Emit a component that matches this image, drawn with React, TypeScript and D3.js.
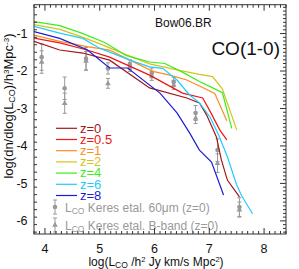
import React from "react";
import * as d3 from "d3";

// redshift labels and colours
const zLabels = ["z=0", "z=0.5", "z=1", "z=2", "z=4", "z=6", "z=8"];
const zColors = ["#a01818", "#ee1515", "#ff8c22", "#d6c218", "#3aee18", "#22ccff", "#1c1cd6"];

// model luminosity functions, [log L, log phi]
const z0 = [[3.8, -1.21], [4.27, -1.44], [4.69, -1.52], [5.18, -1.71], [5.91, -2.45], [6.59, -2.72], [6.82, -2.85], [6.95, -3.17], [7.13, -3.76], [7.22, -4.37], [7.33, -4.91], [7.55, -5.36]];
const z05 = [[3.8, -1.12], [4.27, -1.25], [4.77, -1.44], [5.18, -1.63], [5.91, -2.11], [6.51, -2.59], [6.88, -2.72], [7.02, -3.09], [7.19, -3.57], [7.32, -3.84]];
const z1 = [[3.8, -1.04], [4.27, -1.21], [4.77, -1.35], [5.18, -1.44], [5.55, -1.71], [5.97, -2.01], [6.28, -2.11], [6.59, -2.24], [6.82, -2.4], [7.1, -2.6], [7.32, -3.33]];
const z2 = [[3.8, -0.76], [4.27, -0.89], [4.67, -1.09], [5.06, -1.31], [5.49, -1.57], [5.91, -1.81], [6.41, -1.97], [6.82, -2.09], [7.06, -2.15], [7.24, -2.48], [7.5, -3.57]];
const z4 = [[3.8, -0.68], [4.27, -0.79], [4.67, -0.99], [5.09, -1.24], [5.49, -1.59], [5.91, -1.76], [6.19, -1.8], [6.51, -2.03], [6.82, -2.28], [7.06, -2.45], [7.24, -2.58], [7.41, -3.53]];
const z6 = [[3.8, -0.81], [4.27, -0.99], [4.69, -1.13], [5.0, -1.39], [5.55, -1.71], [5.91, -1.89], [6.15, -1.93], [6.41, -2.24], [6.64, -2.64], [6.82, -2.85], [7.01, -3.22], [7.17, -3.71], [7.33, -4.29], [7.5, -5.04], [7.59, -5.33], [7.79, -5.81]];
const z8 = [[3.8, -0.95], [4.27, -1.13], [4.77, -1.43], [5.18, -1.92], [5.51, -1.92], [6.1, -2.59], [6.41, -3.12], [6.64, -3.65], [6.82, -4.11], [7.04, -4.43], [7.26, -5.31]];
const models = [z0, z05, z1, z2, z4, z6, z8];

// Keres et al. observed points
const keresX = [3.94, 4.36, 4.75, 5.15, 5.55, 5.95, 6.35, 6.75, 7.15, 7.55];
const keres60 = [-1.63, -2.46, -1.67, -1.93, -1.83, -2.05, -2.29, -3.12, -4.11, -5.63];
const keres60Err = [0.35, 0.3, 0.3, 0.15, 0.13, 0.13, 0.12, 0.2, 0.3, 0.25];
const keresB = [-1.76, -2.86, -1.73, -2.33, -1.89, -2.13, -2.37, -3.25, -4.46, -5.7];
const keresBErr = [0.3, 0.27, 0.25, 0.13, 0.12, 0.12, 0.12, 0.15, 0.25, 0.2];

const xTicks = [4, 5, 6, 7, 8];
const yTicks = [-1, -2, -3, -4, -5, -6];

const W = 299;
const H = 269;
const left = 34, right = 286, top = 4.7, bottom = 234;
const font = "'Liberation Sans', Arial, sans-serif";
const gray = "#999";

const App = () => {
  const x = d3.scaleLinear().domain([3.8, 8.4]).range([left, right]);
  const y = d3.scaleLinear().domain([-6.35, -0.23]).range([bottom, top]);
  const line = d3.line<number[]>().x((d) => x(d[0])).y((d) => y(d[1]));

  const xMinor = d3.range(38, 85).map((v) => v / 10);
  const yMinorL = d3.range(-63, -2, 2).map((v) => v / 10);
  const yMinorR = d3.range(-63, -2).map((v) => v / 10);

  const errBar = (cx: number, lo: number, hi: number, key: string) => (
    <g key={key} stroke={gray} strokeWidth={1}>
      <line x1={cx} x2={cx} y1={lo} y2={hi} />
      <line x1={cx - 2} x2={cx + 2} y1={lo} y2={lo} />
      <line x1={cx - 2} x2={cx + 2} y1={hi} y2={hi} />
    </g>
  );
  const tri = (cx: number, cy: number) =>
    `M${cx},${cy - 3.2}L${cx + 2.8},${cy + 1.8}L${cx - 2.8},${cy + 1.8}Z`;

  return (
    <svg width={W} height={H} style={{ position: "absolute", left: 0, top: 0 }} fontFamily={font}>
      <rect width={W} height={H} fill="#fff" />
      <defs>
        <clipPath id="plot">
          <rect x={left} y={top} width={right - left} height={bottom - top} />
        </clipPath>
      </defs>

      {/* observations */}
      {keresX.map((v, i) => {
        const cx = x(v);
        return (
          <g key={"k" + i}>
            {errBar(cx, y(keres60[i] + keres60Err[i]), y(keres60[i] - keres60Err[i]), "a")}
            {errBar(cx, y(keresB[i] + keresBErr[i]), y(keresB[i] - keresBErr[i]), "b")}
            <circle cx={cx} cy={y(keres60[i])} r={2.3} fill={gray} />
            <path d={tri(cx, y(keresB[i]))} fill={gray} />
          </g>
        );
      })}

      {/* model curves */}
      <g clipPath="url(#plot)">
        {models.map((m, i) => (
          <path key={zLabels[i]} d={line(m) || ""} fill="none" stroke={zColors[i]} strokeWidth={1.2} />
        ))}
      </g>

      {/* legend */}
      {zLabels.map((lab, i) => (
        <g key={"lg" + i}>
          <line x1={56} x2={77} y1={128.3 + i * 11.2} y2={128.3 + i * 11.2} stroke={zColors[i]} strokeWidth={1.2} />
          <text x={80} y={132.5 + i * 11.2} fontSize={13} fill={zColors[i]}>{lab}</text>
        </g>
      ))}
      {errBar(55, 200, 214, "l1")}
      <circle cx={55} cy={207} r={2.3} fill={gray} />
      <text x={65} y={212} fontSize={12} fill={gray}>
        L<tspan fontSize={8.5} dy={2}>CO</tspan><tspan dy={-2}> Keres etal. 60μm (z=0)</tspan>
      </text>
      {errBar(55, 218, 232, "l2")}
      <path d={tri(55, 225)} fill={gray} />
      <text x={65} y={230} fontSize={12} fill={gray}>
        L<tspan fontSize={8.5} dy={2}>CO</tspan><tspan dy={-2}> Keres etal. B-band (z=0)</tspan>
      </text>

      {/* frame and ticks */}
      <g stroke="#333" strokeWidth={1}>
        <rect x={left} y={top} width={right - left} height={bottom - top} fill="none" />
        {xMinor.map((v) => {
          const major = Math.abs(v - Math.round(v)) < 1e-6;
          const len = major ? 6 : 3;
          return (
            <g key={"xt" + v}>
              <line x1={x(v)} x2={x(v)} y1={bottom} y2={bottom - len} />
              <line x1={x(v)} x2={x(v)} y1={top} y2={top + len} />
            </g>
          );
        })}
        {yMinorL.map((v) => {
          const major = Math.abs(v - Math.round(v)) < 1e-6;
          return <line key={"yl" + v} x1={left} x2={left + (major ? 6 : 3)} y1={y(v)} y2={y(v)} />;
        })}
        {yMinorR.map((v) => {
          const major = Math.abs(v - Math.round(v)) < 1e-6;
          return <line key={"yr" + v} x1={right} x2={right - (major ? 6 : 3)} y1={y(v)} y2={y(v)} />;
        })}
      </g>

      {xTicks.map((t) => (
        <text key={"xl" + t} x={x(t)} y={253} fontSize={12.5} textAnchor="middle" fill="#111">{t}</text>
      ))}
      {yTicks.map((t) => (
        <text key={"yl" + t} x={27.5} y={y(t) + 4.3} fontSize={12.5} textAnchor="end" fill="#111">{t}</text>
      ))}

      {/* axis titles */}
      <text x={156} y={266} fontSize={12} textAnchor="middle" fill="#111">
        log(L<tspan fontSize={8.5} dy={2}>CO</tspan><tspan dy={-2}> /h</tspan>
        <tspan fontSize={7.5} dy={-4}>2</tspan><tspan dy={4}> Jy km/s Mpc</tspan>
        <tspan fontSize={7.5} dy={-4}>2</tspan><tspan dy={4}>)</tspan>
      </text>
      <text transform="translate(13,106) rotate(-90)" fontSize={13} textAnchor="middle" fill="#111">
        log(dn/dlog(L<tspan fontSize={9} dy={2}>CO</tspan><tspan dy={-2}>)/h</tspan>
        <tspan fontSize={8} dy={-4}>3</tspan><tspan dy={4}>Mpc</tspan>
        <tspan fontSize={8} dy={-4}>-3</tspan><tspan dy={4}>)</tspan>
      </text>

      <text x={155} y={27} fontSize={12} fill="#111">Bow06.BR</text>
      <text x={280} y={55} fontSize={19} textAnchor="end" fill="#111">CO(1-0)</text>
    </svg>
  );
};

export default App;
